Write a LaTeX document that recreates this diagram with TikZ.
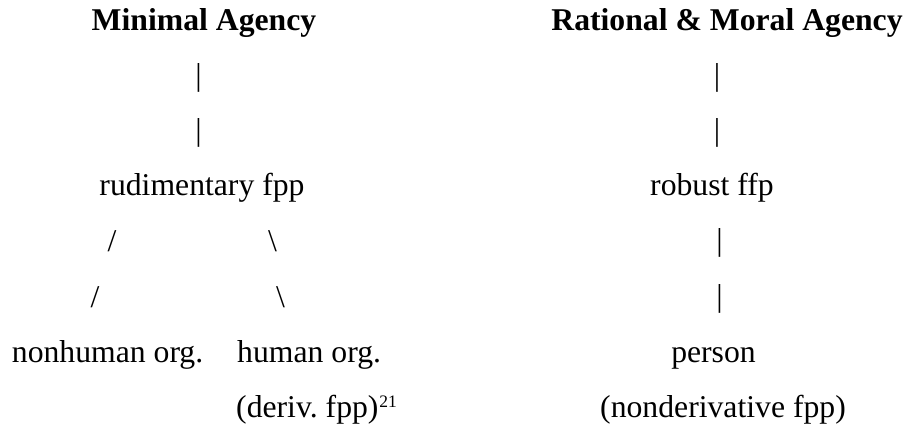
\documentclass[tikz,border=0pt]{standalone}
\usepackage{fontspec}
\setmainfont{Liberation Serif}
\begin{document}
\frenchspacing
\begin{tikzpicture}[x=1pt,y=-1pt,
  lbl/.style={inner sep=0pt, anchor=base, font=\fontsize{31.7}{38}\selectfont},
  lblw/.style={lbl, anchor=base west},
  hd/.style={lbl, font=\fontsize{31.7}{38}\selectfont\bfseries}]
\useasboundingbox (0,0) rectangle (909,427);
% left column
\node[hd] (t1) at (204,30.5) {Minimal Agency};
\node[lbl] (lb1) at (198.5,86) {|};
\node[lbl] (lb2) at (198.5,141) {|};
\node[lbl] (rud) at (202,196) {rudimentary fpp};
\node[lbl] (sl1) at (112,252) {/};
\node[lbl] (sl2) at (95,307) {/};
\node[lbl] (bs1) at (272.5,252) {\textbackslash};
\node[lbl] (bs2) at (280.5,307) {\textbackslash};
\node[lblw] (nh) at (11.7,362) {nonhuman org.};
\node[lblw] (ho) at (237,362) {human org.};
\node[lblw] (dv) at (236,417) {(deriv. fpp)\kern1pt\raisebox{9.5pt}{\fontsize{17.5}{20}\selectfont 21}};
% right column
\node[hd] (t2) at (727,30.5) {Rational \& Moral Agency};
\node[lbl] (rb1) at (717,86) {|};
\node[lbl] (rb2) at (717,141) {|};
\node[lbl] (rob) at (712,196) {robust ffp};
\node[lbl] (rb3) at (719.5,251) {|};
\node[lbl] (rb4) at (719.5,306) {|};
\node[lbl] (per) at (713.5,362) {person};
\node[lbl] (nd) at (723,417) {(nonderivative fpp)};
\end{tikzpicture}
\end{document}
